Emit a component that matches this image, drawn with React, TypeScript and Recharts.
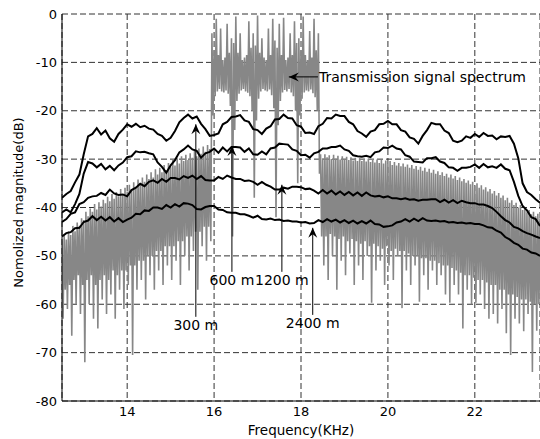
import React from "react";
import {
  LineChart,
  Line,
  XAxis,
  YAxis,
  CartesianGrid,
  ReferenceLine,
  ReferenceDot,
  Label,
} from "recharts";

const FONT = "DejaVu Sans";
const F0 = 12.5; // first frequency, KHz
const CURVE_STEP = 0.1;
const TX_STEP = 0.05;

const xTicks = [14, 16, 18, 20, 22];
const yTicks = [-80, -70, -60, -50, -40, -30, -20, -10, 0];

// received spectra (dB), 12.5 .. 23.5 KHz every 0.1 KHz
const rx300m = [
  -38, -37.2, -36.6, -34.8, -33.2, -29, -25.3, -24.8, -23.6, -24.9,
  -24.1, -25.7, -26.4, -24.8, -23.9, -22.8, -23.3, -22.7, -23.4, -23.1,
  -23.7, -23.9, -24.8, -25.2, -26.2, -25.6, -24.2, -22.4, -21.5, -20.8,
  -21.6, -21.2, -22.7, -23.8, -25.2, -25, -24.7, -22.8, -22.3, -21.3,
  -21.2, -20.9, -22, -22.3, -23.8, -24, -24.8, -23.7, -23.2, -21.8,
  -21.7, -20.8, -21.5, -21.6, -23, -23.3, -24.6, -24.5, -24.8, -23.2,
  -22.7, -21.5, -21.6, -20.8, -21.1, -21.1, -22.3, -22.8, -24.2, -24.7,
  -25.4, -24.3, -24, -22.8, -22.7, -22.1, -22.8, -22.8, -24, -24.3,
  -25.5, -25.8, -26.8, -25.2, -24, -22.5, -22.8, -22.8, -24.1, -24.6,
  -26.2, -26.5, -26.2, -25.3, -25.6, -24.8, -25.4, -24.6, -25.2, -25.1,
  -25.9, -25.3, -25.4, -25.2, -26.8, -29.8, -35, -36.8, -37.4, -38.3,
  -39,
];
const rx600m = [
  -41, -40.4, -41, -39.3, -37.2, -33, -30.6, -30.9, -31.7, -31,
  -32.1, -31.4, -32.3, -31.3, -30.7, -29.6, -29.4, -28.4, -28.6, -28.5,
  -28.8, -29, -30.7, -31.6, -32.8, -31.3, -30.2, -28.6, -28, -27.2,
  -28, -28.3, -29.7, -28.8, -28.5, -27.8, -28.7, -27.6, -28.4, -27.5,
  -27.5, -27.6, -28.5, -27.8, -29, -29.1, -28.4, -29, -27.8, -27.6,
  -26.8, -26.9, -27, -28, -28.3, -29.2, -29.1, -29.7, -28.8, -28.5,
  -27.8, -27.8, -27.5, -27.5, -27.2, -28, -28.3, -29.2, -29.4, -29.5,
  -29.3, -29.6, -28.6, -28.4, -27.6, -27.7, -27.2, -27.8, -28, -29.2,
  -29.5, -30.5, -30.6, -30.7, -29.8, -29.8, -29.6, -30.5, -30.8, -31.7,
  -31.8, -32.4, -31.8, -31.8, -31.6, -31.1, -31.8, -31, -31.7, -31.5,
  -31.8, -31.1, -32, -32.3, -34.7, -37.6, -39.7, -40.6, -42, -42.4,
  -43.8,
];
const rx1200m = [
  -43, -42.4, -41.3, -41, -39.3, -38.9, -38, -37.7, -37.6, -37,
  -37.4, -36.3, -37.1, -37.4, -37.3, -37.7, -36.4, -35.9, -35.1, -35.6,
  -34.7, -34.4, -34.9, -34.1, -34.7, -33.9, -33.9, -34.2, -33.5, -33.9,
  -33.4, -34.1, -33.5, -34.3, -34.4, -34.4, -33.7, -34.1, -33.4, -33.8,
  -34.1, -34.1, -34.5, -34.4, -34.7, -35.3, -34.7, -35.3, -35.7, -36.3,
  -36.3, -35.9, -36.1, -35.7, -35.7, -35.8, -36.2, -36.1, -36.5, -37.1,
  -36.4, -37.1, -36.5, -37.3, -36.7, -37.4, -36.8, -37.5, -36.9, -37.6,
  -36.9, -37.5, -37.7, -37.6, -37.9, -37.7, -38.1, -38.1, -38.3, -38.1,
  -38.4, -38.3, -38.6, -38.4, -38.4, -38.3, -38.3, -38.9, -38.4, -39,
  -38.5, -39.1, -38.6, -38.9, -39.1, -39.1, -39.4, -39.4, -39.7, -40.1,
  -40.9, -41.8, -42.6, -43.1, -44, -44.3, -44.9, -45.3, -45.6, -46,
  -46.3,
];
const rx2400m = [
  -46, -45.3, -45.1, -44.3, -44.2, -43, -42.7, -41.8, -42.6, -41.9,
  -42.7, -42, -42.9, -42.2, -43, -42.5, -42.1, -41.3, -41.4, -40.6,
  -40.7, -40, -40, -40.3, -39.5, -40, -39.3, -39.8, -39.1, -39.2,
  -39.5, -40.3, -40.4, -39.9, -39.7, -39.7, -40.4, -40.5, -41, -41.1,
  -41.1, -41.4, -41.4, -41.7, -42.1, -41.7, -42.4, -42.5, -42.3, -42.6,
  -42.5, -42.8, -42.7, -42.9, -42.9, -43.1, -43, -43.3, -43.2, -42.6,
  -43, -42.4, -42.9, -42.5, -43.1, -42.6, -43.2, -42.7, -43.3, -42.8,
  -43.3, -42.7, -43.4, -43.5, -44, -43.9, -43.7, -43.1, -42.9, -42.4,
  -42.9, -42.3, -42.8, -42.2, -42.7, -42.8, -42.7, -42.9, -42.8, -43.1,
  -43, -43.2, -43.1, -43.3, -43.2, -43.4, -43.4, -43.7, -44.1, -44.2,
  -44.8, -45.2, -46.1, -46.6, -47.3, -47.7, -48.5, -48.7, -49.3, -49.5,
  -50,
];

// transmission signal spectrum, every 0.05 KHz: upper and lower excursion
const txTop = [
  -47, -45.8, -46.6, -44.9, -45.7, -43.8, -44.9, -43.1, -43.8, -42.2,
  -42.6, -40.9, -41.8, -40.2, -40.9, -39.3, -40.4, -38.9, -39.8, -38.4,
  -39.1, -37.8, -38.7, -37.2, -38.2, -36.8, -37.7, -36.2, -37.3, -35.9,
  -36.7, -35.3, -36.2, -34.8, -35.8, -34.2, -35.1, -33.8, -34.7, -33.2,
  -34.1, -32.7, -33.8, -32.1, -33.2, -31.8, -32.7, -31.2, -32.3, -30.8,
  -31.7, -30.2, -31.3, -29.8, -30.9, -29.4, -30.4, -29.1, -30.2, -28.8,
  -29.7, -28.3, -29.4, -27.8, -28.9, -27.4, -28.5, -27.1, -27.9, -4,
  -7.5, -1, -8.5, -3, -9.5, -9, -2, -8, -5, -6,
  -0.5, -8, -4, -9.5, -9, -8.5, -1.5, -7, -4, -6.5,
  -0.3, -8, -5, -9, -9.5, -3, -8.5, -1, -5.5, -7,
  -2, -8.5, -0.8, -9.5, -9, -4, -8.5, -1.5, -6, -5,
  -7.5, -0.5, -8.5, -9.5, -3.5, -9, -1, -7.5, -4, -29,
  -29.8, -29, -29.6, -29.2, -30, -29.1, -29.9, -29.3, -30.1, -29.4,
  -30.1, -29.5, -30.2, -29.6, -30.3, -29.7, -30.4, -29.8, -30.4, -29.9,
  -30.5, -29.9, -30.6, -30, -30.7, -30.1, -30.8, -30.2, -30.9, -30.3,
  -31, -30.4, -31.2, -30.6, -31.3, -30.8, -31.5, -30.9, -31.6, -31.1,
  -31.8, -31.2, -32, -31.4, -32.2, -31.6, -32.4, -31.8, -32.6, -32,
  -32.8, -32.2, -33, -32.5, -33.3, -32.7, -33.5, -33, -33.8, -33.2,
  -34, -33.5, -34.3, -33.8, -34.6, -34.1, -34.9, -34.4, -35.2, -34.7,
  -35.5, -35, -35.9, -35.4, -36.3, -35.8, -36.7, -36.2, -37.1, -36.6,
  -37.5, -37, -38, -37.5, -38.5, -38, -39, -38.5, -39.5, -39,
  -40, -39.5, -40.5, -40, -41, -40.5, -41.4, -40.9, -41.8, -41.3,
  -42.2,
];
const txBottom = [
  -63, -57, -61, -56, -66.5, -55, -60, -54, -62, -56,
  -72, -55, -60, -54, -63, -56, -65, -55, -59, -54,
  -62, -55, -58, -53, -63, -54, -57, -53, -61, -53,
  -56, -52, -70.5, -52, -57, -51, -55, -51, -59, -50,
  -54, -50, -57, -49, -53, -49, -56, -48, -52, -48,
  -55, -48, -51, -47, -56, -47, -50, -46, -53, -46,
  -49, -45, -57, -45, -48, -44, -51, -44, -47, -21,
  -17, -16, -15.5, -16, -16.2, -15.8, -16.5, -19, -46, -24,
  -18, -16.5, -15.8, -15.5, -16, -16.3, -17, -20, -38, -22,
  -17.5, -16, -15.5, -15.8, -16, -15.6, -16.8, -19.5, -42, -23,
  -18, -16.2, -15.7, -16, -15.5, -16.2, -17, -20, -35, -21,
  -17.5, -16.2, -15.8, -16, -15.6, -16.4, -17.2, -20, -33, -46,
  -52, -46, -55, -45.5, -50, -46, -57, -46.5, -51, -46,
  -54, -47, -49.5, -46.5, -56, -47, -52, -47.5, -55, -47,
  -50, -48, -59.7, -47.5, -53, -48, -51, -48.5, -56, -48,
  -52, -49, -55, -48.5, -50, -49, -60.8, -49, -53, -49.5,
  -56, -50, -52, -50, -59.5, -50.5, -54, -50.5, -57, -51,
  -53, -51, -56, -51.5, -54, -52, -58, -52, -59.7, -52.5,
  -56, -53, -58, -53.5, -65, -54, -57, -54, -60, -54.5,
  -59.7, -55, -58, -55, -61, -55.5, -63, -56, -62, -56,
  -64, -57, -61, -57, -66, -58, -70.5, -58, -63, -58.5,
  -64, -59, -65.6, -59, -62, -59.5, -74, -60, -65.5, -60,
  -64,
];

// cable length annotations: arrow at f, from tail (bottom) up to tip
const lengthArrows = [
  { text: "300 m", f: 15.58, tip: -22.8, tail: -62.6 },
  { text: "600 m", f: 16.41, tip: -27.3, tail: -53.3 },
  { text: "1200 m", f: 17.56, tip: -35.3, tail: -53.3 },
  { text: "2400 m", f: 18.27, tip: -44.2, tail: -62.2 },
];
const txArrow = { text: "Transmission signal spectrum", tip: 17.72, tail: 18.39, y: -13 };

const toPts = (vals: number[]) => vals.map((y, i) => ({ f: F0 + i * CURVE_STEP, y }));
const txPts = txTop.flatMap((t, i) => [
  { f: F0 + i * TX_STEP, y: t },
  { f: F0 + i * TX_STEP + TX_STEP / 2, y: txBottom[i] },
]);
const curves = [rx300m, rx600m, rx1200m, rx2400m].map(toPts);

const tickStyle = { fontSize: 13, fontFamily: FONT, fill: "#000" };

function UpHead({ cx, cy }: any) {
  if (cx == null || cy == null) return null;
  return (
    <path
      d={`M${cx},${cy} L${cx - 4.5},${cy + 10} L${cx},${cy + 6.5} L${cx + 4.5},${cy + 10} Z`}
      fill="#000"
    />
  );
}

function LeftHead({ cx, cy }: any) {
  if (cx == null || cy == null) return null;
  return (
    <path
      d={`M${cx},${cy} L${cx + 10},${cy - 4.5} L${cx + 6.5},${cy} L${cx + 10},${cy + 4.5} Z`}
      fill="#000"
    />
  );
}

export default function App() {
  return (
    <div style={{ position: "absolute", left: 0, top: 0, background: "#fff" }}>
      <LineChart width={540} height={439} margin={{ top: 14, right: 0, bottom: 0, left: 0 }}>
        <CartesianGrid stroke="#333" strokeDasharray="6 3" />
        <XAxis
          dataKey="f"
          type="number"
          domain={[12.5, 23.5]}
          allowDataOverflow
          ticks={xTicks}
          tickLine={false}
          tickSize={0}
          tickMargin={6}
          height={38}
          axisLine={{ stroke: "#000" }}
          tick={tickStyle}
        >
          <Label
            value="Frequency(KHz)"
            position="insideBottom"
            offset={4}
            style={{ fontSize: 13.5, fontFamily: FONT, fill: "#000" }}
          />
        </XAxis>
        <XAxis
          xAxisId="top"
          orientation="top"
          type="number"
          domain={[12.5, 23.5]}
          height={0}
          tick={false}
          tickLine={false}
          axisLine={{ stroke: "#000" }}
        />
        <YAxis
          type="number"
          domain={[-80, 0]}
          allowDataOverflow
          ticks={yTicks}
          tickLine={false}
          tickSize={0}
          tickMargin={5}
          width={62}
          axisLine={{ stroke: "#000" }}
          tick={tickStyle}
        >
          <Label
            content={({ viewBox }: any) => (
              <text
                transform={`translate(${viewBox.x + 19},${viewBox.y + viewBox.height / 2 - 5}) rotate(-90)`}
                textAnchor="middle"
                dominantBaseline="middle"
                fontSize={13}
                fontFamily={FONT}
                fill="#000"
              >
                Nomolized magnitude(dB)
              </text>
            )}
          />
        </YAxis>

        <Line
          data={txPts}
          dataKey="y"
          type="linear"
          stroke="#878787"
          strokeWidth={1.6}
          dot={false}
          activeDot={false}
          isAnimationActive={false}
        />
        {curves.map((pts, k) => (
          <Line
            key={k}
            data={pts}
            dataKey="y"
            type="linear"
            stroke="#000"
            strokeWidth={2}
            dot={false}
            activeDot={false}
            isAnimationActive={false}
          />
        ))}

        {lengthArrows.map((a) => (
          <ReferenceLine
            key={a.text + "-shaft"}
            segment={[
              { x: a.f, y: a.tip },
              { x: a.f, y: a.tail },
            ]}
            stroke="#000"
            strokeWidth={1}
          />
        ))}
        {lengthArrows.map((a) => (
          <ReferenceDot key={a.text + "-head"} x={a.f} y={a.tip} shape={<UpHead />} />
        ))}
        {lengthArrows.map((a) => (
          <ReferenceDot
            key={a.text + "-label"}
            x={a.f}
            y={a.tail}
            shape={({ cx, cy }: any) => (
              <text
                x={cx}
                y={cy + 13}
                textAnchor="middle"
                fontSize={14}
                fontFamily={FONT}
                fill="#000"
              >
                {a.text}
              </text>
            )}
          />
        ))}

        <ReferenceLine
          segment={[
            { x: txArrow.tip, y: txArrow.y },
            { x: txArrow.tail, y: txArrow.y },
          ]}
          stroke="#000"
          strokeWidth={1}
        />
        <ReferenceDot x={txArrow.tip} y={txArrow.y} shape={<LeftHead />} />
        <ReferenceDot
          x={txArrow.tail}
          y={txArrow.y}
          shape={({ cx, cy }: any) => (
            <text x={cx + 1} y={cy + 5} fontSize={14} fontFamily={FONT} fill="#000">
              {txArrow.text}
            </text>
          )}
        />
      </LineChart>
    </div>
  );
}
